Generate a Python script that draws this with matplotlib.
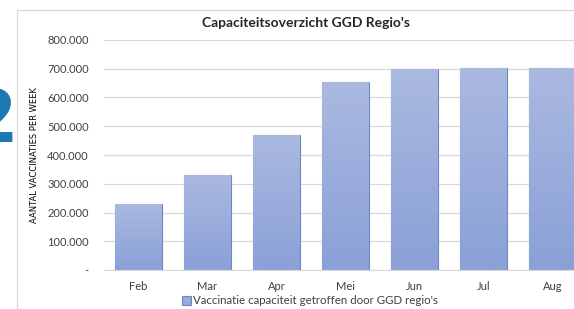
import numpy as np
import matplotlib
matplotlib.use("Agg")
import matplotlib.pyplot as plt
from matplotlib.patches import Rectangle
from matplotlib.colors import LinearSegmentedColormap
from matplotlib.ticker import FuncFormatter

# Data
months = ["Feb", "Mar", "Apr", "Mei", "Jun", "Jul", "Aug"]
capacity = [230000, 332000, 470000, 653000, 699000, 701000, 701000]
yticks = [0, 100000, 200000, 300000, 400000, 500000, 600000, 700000, 800000]

W, H = 574, 309
fig = plt.figure(figsize=(W / 100, H / 100), dpi=100)
fig.patch.set_facecolor("white")

# chart frame (cut off on the right and bottom in the screenshot)
fig.patches.append(Rectangle((17 / W, -0.2), 1.2, (H - 10) / H + 0.2,
                             transform=fig.transFigure, fill=False,
                             edgecolor="#d9d9d9", lw=0.9))

# big slide number peeking in from the left
fig.text(14 / W, 1 - 142 / H, "2", ha="right", va="baseline",
         fontsize=54, fontweight="bold", color="#1b78b2", family="Open Sans")

ax = fig.add_axes([104 / W, 39 / H, 483 / W, 230 / H])
x = np.arange(len(months))
bars = ax.bar(x, capacity, width=0.68, color="#9aacdc",
              edgecolor="#6c86c4", linewidth=0.8, zorder=2,
              label="Vaccinatie capaciteit getroffen door GGD regio's")

# vertical gradient fill like the Excel bars (light at top)
cmap = LinearSegmentedColormap.from_list("bar", ["#aab9e0", "#8aa0d7"])
grad = np.linspace(0, 1, 100).reshape(-1, 1)
for b in bars:
    x0, w, h = b.get_x(), b.get_width(), b.get_height()
    im = ax.imshow(grad, extent=[x0, x0 + w, 0, h], aspect="auto",
                   cmap=cmap, zorder=2.5, origin="upper")
    im.set_clip_path(b)

ax.set_xlim(-0.5, len(months) - 0.5)
ax.set_ylim(0, 800000)
ax.set_yticks(yticks)
ax.yaxis.set_major_formatter(FuncFormatter(
    lambda v, p: "-" if v == 0 else f"{int(v):,}".replace(",", ".")))
ax.set_xticks(x)
ax.set_xticklabels(months)
ax.grid(axis="y", color="#d9d9d9", lw=0.9, zorder=0)
ax.tick_params(length=0, labelsize=8, colors="#404040")
ax.tick_params(axis="y", pad=11)
ax.tick_params(axis="x", pad=8)
for lab in ax.get_xticklabels() + ax.get_yticklabels():
    lab.set_family("Lato")
for s in ["top", "right", "left"]:
    ax.spines[s].set_visible(False)
ax.spines["bottom"].set_color("#d9d9d9")

fig.text(306 / W, 1 - 23 / H, "Capaciteitsoverzicht GGD Regio's",
         ha="center", va="center", fontsize=10, fontweight="bold",
         family="Lato", color="#262626")

fig.text(35 / W, 1 - 155 / H, "AANTAL VACCINATIES PER WEEK", rotation=90,
         ha="center", va="center", fontsize=6,
         family=["Liberation Sans Narrow", "DejaVu Sans Condensed", "DejaVu Sans"],
         color="black")

ax.legend(loc="center", bbox_to_anchor=(310 / W, 1 - 301 / H),
          bbox_transform=fig.transFigure, frameon=False,
          prop={"family": "Lato", "size": 8.3}, handlelength=0.8,
          handleheight=0.7, handletextpad=0.2, labelcolor="#404040")

fig.savefig("out.png", dpi=100)
